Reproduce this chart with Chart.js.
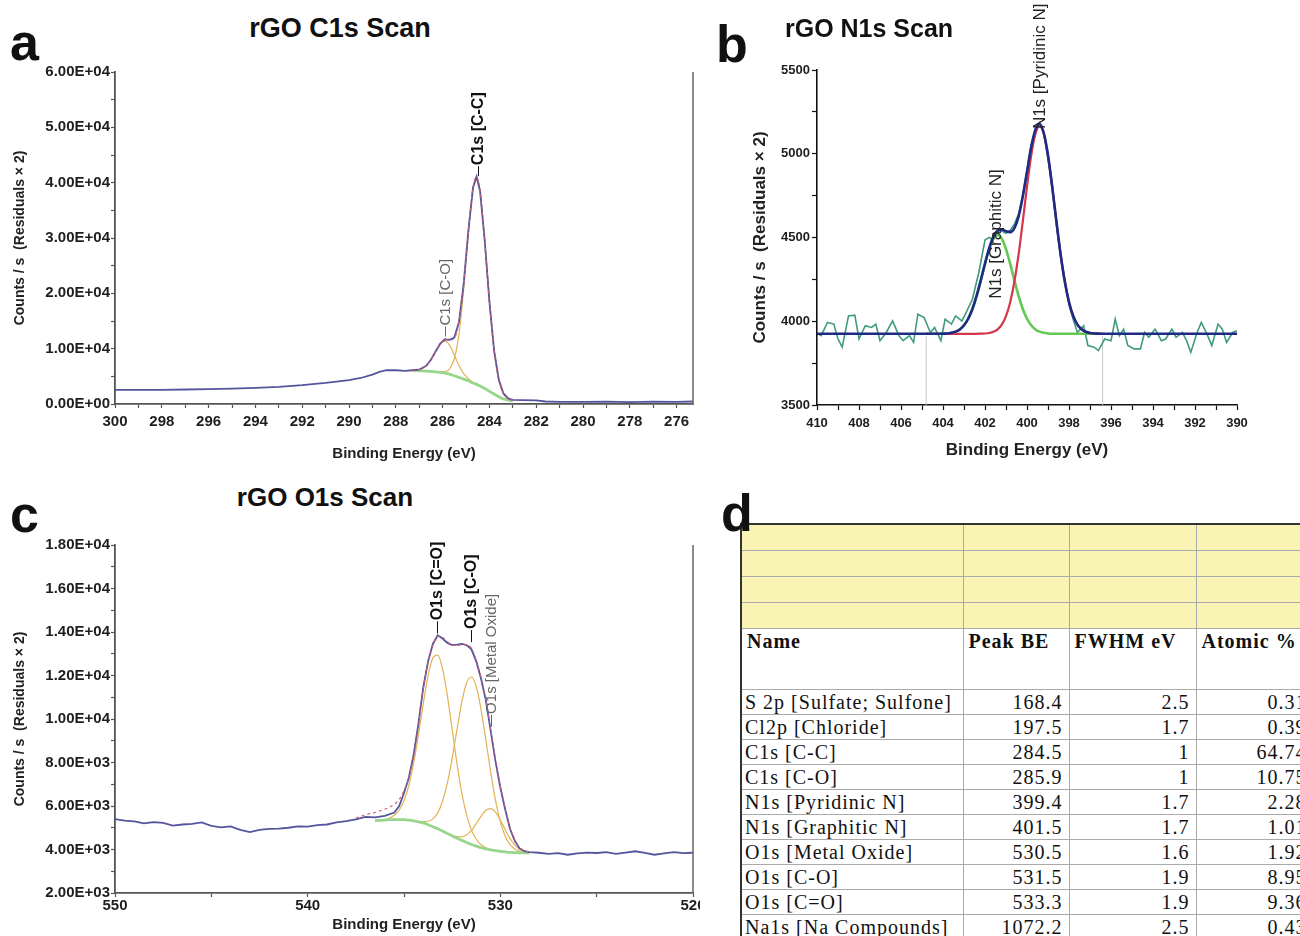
<!DOCTYPE html>
<html>
<head>
<meta charset="utf-8">
<script src="https://cdn.jsdelivr.net/npm/chart.js"></script>
<style>
    html, body { margin: 0; padding: 0; background: #fff; }
    body { width: 1300px; height: 936px; position: relative; overflow: hidden; font-family: "Liberation Sans", Arial, sans-serif; }
    canvas { position: absolute; }
    .letter { position: absolute; font-weight: bold; font-size: 52px; line-height: 52px; color: #111; }
    .title { position: absolute; font-weight: bold; font-size: 26px; line-height: 30px; color: #111; white-space: nowrap; }
    #clipC { position: absolute; left: 0; top: 515px; width: 700px; height: 421px; overflow: hidden; }
    #tableWrap { position: absolute; left: 740px; top: 523px; width: 560px; height: 413px; overflow: hidden; }
    #peaks { border-collapse: collapse; table-layout: fixed; width: 572px; font-family: "Liberation Serif", "Times New Roman", serif; font-size: 20px; color: #111; border-top: 2px solid #333; border-left: 2px solid #333; }
    #peaks td, #peaks th { border: 1px solid #aaa; padding: 0 6px; white-space: nowrap; overflow: hidden; text-align: right; letter-spacing: 1px; }
    #peaks tr.band td { background: #faf4b4; height: 25px; padding: 0; }
    #peaks tr.head th { height: 59px; vertical-align: top; text-align: left; font-weight: bold; padding: 1px 5px 0 5px; }
    #peaks tr.row td { height: 24px; line-height: 22px; }
    #peaks td.name { text-align: left; padding-left: 3px; }
</style>
</head>
<body>
<canvas id="chartA" width="700" height="420" style="left:0;top:60px"></canvas>
<canvas id="chartB" width="560" height="480" style="left:740px;top:0"></canvas>
<div id="clipC"><canvas id="chartC" width="730" height="421" style="left:0;top:0"></canvas></div>
<div id="tableWrap">
    <table id="peaks">
        <colgroup><col style="width:222px"><col style="width:106px"><col style="width:127px"><col style="width:117px"></colgroup>
        <tbody id="peakRows"></tbody>
    </table>
</div>
<div class="letter" style="left:10px;top:16px">a</div>
<div class="letter" style="left:716px;top:18px">b</div>
<div class="letter" style="left:10px;top:488px">c</div>
<div class="letter" style="left:721px;top:487px">d</div>
<div class="title" style="left:340px;top:13px;transform:translateX(-50%);font-size:27px">rGO C1s Scan</div>
<div class="title" style="left:785px;top:13px;font-size:25px">rGO N1s Scan</div>
<div class="title" style="left:325px;top:482px;transform:translateX(-50%)">rGO O1s Scan</div>
<script>
// ---- panel a : C1s ----
const c1sRawBE = [300, 299, 298, 297, 296, 295, 294, 293, 292, 291, 290, 289.5, 289, 288.7, 288.4, 288, 287.6, 287.3, 287, 286.7,
    286.5, 286.3, 286.1, 285.9, 285.7, 285.5, 285.3, 285.1, 284.9, 284.7, 284.55, 284.4, 284.2, 284, 283.8, 283.6, 283.4, 283.2, 283, 282.6,
    282, 281.6, 281, 280, 279, 278, 277, 276, 275.3];
const c1sRaw = [2550, 2550, 2560, 2620, 2700, 2780, 2900, 3100, 3400, 3800, 4300, 4700, 5300, 5800, 6100, 6100, 6000, 6100, 6200, 6900,
    8000, 9500, 10900, 11700, 11600, 12000, 14800, 21700, 31300, 39100, 41100, 38500, 29500, 18500, 9700, 4400, 1900, 1000, 750, 700,
    650, 450, 400, 380, 420, 350, 420, 380, 450];
const c1sFitBE = [287.3, 287.1, 286.9, 286.7, 286.5, 286.3, 286.1, 285.9, 285.7, 285.5, 285.3, 285.1, 284.9, 284.7, 284.55, 284.4, 284.2, 284.0,
    283.8, 283.6, 283.4, 283.2, 283.0];
const c1sEnvelope = [6100, 6150, 6350, 6935, 8040, 9530, 10940, 11640, 11550, 11900, 14820, 21725, 31265, 39130, 41090, 38480, 29500, 18540,
    9680, 4380, 1860, 943, 650];
const c1sBackground = [6050, 6020, 5980, 5950, 5900, 5800, 5700, 5600, 5400, 5100, 4800, 4500, 4200, 3800, 3550, 3250, 2800, 2300,
    1800, 1300, 900, 700, 600];
const c1sCO = [6070, 6127, 6345, 6935, 8040, 9520, 10890, 11400, 10590, 8820, 6940, 5485, 4565, 3907, 3570, 3255, 2800, 2300,
    1800, 1300, 900, 700, 600];
const c1sCC = [6050, 6020, 5980, 5950, 5900, 5808, 5748, 5843, 6360, 8180, 12680, 20740, 30900, 39030, 41050, 38480, 29500, 18540,
    9680, 4380, 1860, 943, 650];
const c1sPeakNames = ['C1s [C-C]', 'C1s [C-O]'];
const c1sPeakBE = [284.5, 285.9];
const c1sPeakTop = [41000, 12000];

// ---- panel b : N1s ----
const n1sRawBE = [410.0, 409.8, 409.5, 409.2, 409.0, 408.8, 408.5, 408.2, 408.0, 407.7, 407.4, 407.2, 407.0, 406.7, 406.4, 406.1, 405.9, 405.6,
    405.4, 405.2, 404.9, 404.6, 404.4, 404.1, 403.9, 403.6, 403.4, 403.1, 402.9, 402.6, 402.3, 402.0, 401.8, 401.6, 401.3, 401.0, 400.8,
    400.6, 400.4, 400.2, 400.0, 399.8, 399.6, 399.4, 399.2, 399.0, 398.8, 398.6, 398.4, 398.2, 398.0, 397.8, 397.6, 397.3, 397.1, 396.8,
    396.6, 396.3, 396.0, 395.8, 395.6, 395.4, 395.2, 394.9, 394.6, 394.4, 394.2, 393.9, 393.6, 393.4, 393.1, 392.9, 392.6, 392.4, 392.2,
    391.9, 391.7, 391.4, 391.2, 390.9, 390.7, 390.5, 390.2, 390.0];
const n1sRaw = [3928, 3914, 3993, 3983, 3894, 3845, 4032, 4036, 3894, 3973, 3963, 3983, 3884, 3933, 4002, 3914, 3884, 3914,
    3874, 4042, 4022, 3933, 3963, 3884, 4012, 3983, 4032, 4002, 4052, 4131, 4288, 4485, 4501, 4485, 4544, 4525, 4544,
    4580, 4640, 4760, 4900, 5050, 5140, 5185, 5120, 4970, 4810, 4580, 4390, 4240, 4100, 4010, 3933, 3973, 3855, 3845,
    3825, 3894, 3884, 4012, 3914, 3953, 3855, 3835, 3835, 3933, 3904, 3953, 3884, 3894, 3953, 3904, 3933, 3884, 3815,
    3933, 3993, 3914, 3855, 3983, 3953, 3874, 3933, 3943];
const n1sFitBE = [404.8, 404.6, 404.4, 404.2, 404.0, 403.8, 403.6, 403.4, 403.2, 403.0, 402.8, 402.6, 402.4, 402.2, 402.0, 401.8, 401.6, 401.4,
    401.2, 401.0, 400.8, 400.6, 400.4, 400.2, 400.0, 399.8, 399.6, 399.4, 399.2, 399.0, 398.8, 398.6, 398.4, 398.2, 398.0, 397.8,
    397.6, 397.4, 397.2, 397.0, 396.8, 396.6, 396.4];
const n1sPyridinic = [3925, 3925, 3925, 3925, 3925, 3925, 3925, 3925, 3925, 3925, 3925, 3925, 3925, 3926, 3927, 3930, 3937, 3952,
    3980, 4031, 4114, 4237, 4400, 4596, 4803, 4989, 5118, 5165, 5118, 4989, 4803, 4596, 4400, 4237, 4114, 4031,
    3980, 3952, 3937, 3930, 3927, 3926, 3925];
const n1sGraphitic = [3925, 3925, 3925, 3925, 3926, 3927, 3931, 3938, 3951, 3976, 4015, 4073, 4151, 4244, 4343, 4431, 4493, 4515,
    4493, 4431, 4343, 4244, 4151, 4073, 4015, 3976, 3951, 3938, 3931, 3927, 3925, 3925, 3925, 3925, 3925, 3925,
    3925, 3925, 3925, 3925, 3925, 3925, 3925];
const n1sEnvelope = [3925, 3925, 3925, 3925, 3926, 3927, 3931, 3938, 3951, 3976, 4015, 4073, 4151, 4245, 4345, 4436, 4505, 4542,
    4548, 4537, 4532, 4556, 4626, 4744, 4893, 5040, 5144, 5178, 5124, 4991, 4803, 4596, 4400, 4237, 4114, 4031,
    3980, 3952, 3937, 3930, 3927, 3926, 3925];
const n1sBaselineEnds = [410, 390];
const n1sBaseline = 3925;
const n1sRegion = [404.8, 396.4];
const n1sPeakNames = ['N1s [Pyridinic N]', 'N1s [Graphitic N]'];
const n1sPeakBE = [399.4, 401.5];
const n1sPeakTop = [5165, 4540];

// ---- panel c : O1s ----
const o1sRawBE = [550, 549.5, 549, 548.5, 548, 547.5, 547, 546.5, 546, 545.5, 545, 544.5, 544, 543.5, 543, 542.5, 542, 541.5, 541, 540.5,
    540, 539.5, 539, 538.5, 538, 537.5, 537, 536.5, 536, 535.5, 535.25, 535, 534.75, 534.5, 534.25, 534, 533.75, 533.5, 533.25, 533,
    532.75, 532.5, 532.25, 532, 531.75, 531.5, 531.25, 531, 530.75, 530.5, 530.25, 530, 529.75, 529.5, 529.25, 529, 528.75, 528.5,
    528, 527.5, 527, 526.5, 526, 525.5, 525, 524.5, 524, 523.5, 523, 522.5, 522, 521.5, 521, 520.5, 520];
const o1sRaw = [5400, 5330, 5290, 5200, 5260, 5220, 5100, 5150, 5180, 5250, 5090, 5020, 5060, 4900, 4800, 4900, 4950, 4960, 5000, 5060,
    5050, 5120, 5150, 5250, 5300, 5380, 5500, 5480, 5550, 5700, 6000, 6600, 7300, 8350, 9800, 11450, 12650, 13450, 13850, 13700,
    13500, 13400, 13420, 13450, 13400, 13200, 12650, 11850, 10850, 9450, 8050, 6850, 5850, 4950, 4400, 4050, 3920, 3880,
    3850, 3800, 3830, 3760, 3820, 3860, 3840, 3880, 3800, 3860, 3920, 3850, 3760, 3820, 3880, 3830, 3850];
const o1sFitBE = [536.5, 536.25, 536, 535.75, 535.5, 535.25, 535, 534.75, 534.5, 534.25, 534, 533.75, 533.5, 533.25, 533, 532.75, 532.5,
    532.25, 532, 531.75, 531.5, 531.25, 531, 530.75, 530.5, 530.25, 530, 529.75, 529.5, 529.25, 529, 528.75, 528.5];
const o1sBackground = [5330, 5340, 5350, 5370, 5380, 5375, 5370, 5350, 5320, 5270, 5220, 5140, 5050, 4950, 4850, 4735, 4620,
    4520, 4420, 4325, 4230, 4155, 4080, 4030, 3980, 3945, 3910, 3890, 3870, 3860, 3850, 3845, 3840];
const o1sCdO = [5333, 5350, 5380, 5450, 5574, 5806, 6242, 6942, 7968, 9270, 10708, 11988, 12810, 12934, 12314, 11079, 9516,
    7952, 6604, 5589, 4895, 4472, 4218, 4084, 4002, 3953, 3913, 3890, 3870, 3860, 3850, 3845, 3840];
const o1sCO = [5330, 5340, 5350, 5370, 5380, 5375, 5370, 5351, 5328, 5293, 5283, 5298, 5407, 5683, 6221, 7053, 8193,
    9517, 10773, 11663, 11930, 11493, 10433, 9027, 7553, 6263, 5281, 4623, 4227, 4018, 3913, 3868, 3848];
const o1sMetal = [5330, 5340, 5350, 5370, 5380, 5375, 5370, 5350, 5320, 5270, 5220, 5140, 5050, 4950, 4850, 4740, 4645,
    4588, 4585, 4675, 4872, 5187, 5530, 5805, 5880, 5720, 5360, 4922, 4512, 4210, 4015, 3913, 3865];
const o1sEnvBE = [537.5, 537, 536.5, 536.25, 536, 535.75, 535.5, 535.25, 535, 534.75, 534.5, 534.25, 534, 533.75, 533.5, 533.25, 533,
    532.75, 532.5, 532.25, 532, 531.75, 531.5, 531.25, 531, 530.75, 530.5, 530.25, 530, 529.75, 529.5, 529.25, 529, 528.75, 528.5];
const o1sEnvelope = [5450, 5600, 5700, 5780, 5850, 5950, 6080, 6300, 6700, 7300, 8300, 9700, 11400, 12600, 13400, 13800, 13750,
    13550, 13400, 13380, 13420, 13420, 13250, 12700, 11900, 10900, 9500, 8100, 6900, 5900, 5000, 4450, 4100, 3950, 3880];
const o1sPeakNames = ['O1s [C=O]', 'O1s [C-O]', 'O1s [Metal Oxide]'];
const o1sPeakBE = [533.3, 531.5, 530.5];
const o1sPeakTop = [13800, 13400, 9500];

// ---- panel d : table ----
const tableHeaders = ['Name', 'Peak BE', 'FWHM eV', 'Atomic %'];
const tableNames = ['S 2p [Sulfate; Sulfone]', 'Cl2p [Chloride]', 'C1s [C-C]', 'C1s [C-O]', 'N1s [Pyridinic N]', 'N1s [Graphitic N]',
    'O1s [Metal Oxide]', 'O1s [C-O]', 'O1s [C=O]', 'Na1s [Na Compounds]'];
const tablePeakBE = [168.4, 197.5, 284.5, 285.9, 399.4, 401.5, 530.5, 531.5, 533.3, 1072.2];
const tableFWHM = [2.5, 1.7, 1, 1, 1.7, 1.7, 1.6, 1.9, 1.9, 2.5];
const tableAtomic = [0.31, 0.39, 64.74, 10.75, 2.28, 1.01, 1.92, 8.95, 9.36, 0.43];

Chart.defaults.font.family = '"Liberation Sans", Arial, sans-serif';
Chart.defaults.animation = false;

const pts = (xs, ys) => xs.map((x, i) => ({x: x, y: ys[i]}));

const sciLabel = (v) => {
    const parts = Number(v).toExponential(2).split('e');
    const sign = parts[1][0] === '-' ? '-' : '+';
    return parts[0] + 'E' + sign + parts[1].replace(/[+-]/, '').padStart(2, '0');
};

let line = function (data, color, width, extra) {
    return Object.assign({
        data: data, borderColor: color, borderWidth: width, pointRadius: 0,
        fill: false, tension: 0
    }, extra || {});
};
const smooth = {cubicInterpolationMode: 'monotone'};

let peakLabels = {
    id: 'peakLabels',
    afterDatasetsDraw(chart, args, opts) {
        const ctx = chart.ctx;
        const xs = chart.scales.x, ys = chart.scales.y;
        opts.names.forEach((name, i) => {
            const st = opts.styles[i];
            const px = Math.round(xs.getPixelForValue(opts.be[i])) + 0.5;
            const py = ys.getPixelForValue(opts.top[i]);
            const base = py - st.gap;
            ctx.save();
            ctx.strokeStyle = st.color;
            ctx.fillStyle = st.color;
            ctx.lineWidth = 1;
            if (st.leader > 0) {
                ctx.beginPath();
                ctx.moveTo(px, base);
                ctx.lineTo(px, base - st.leader);
                ctx.stroke();
            }
            ctx.translate(px, base - st.leader - 1);
            ctx.rotate(-Math.PI / 2);
            ctx.font = st.font;
            ctx.textAlign = 'left';
            ctx.textBaseline = 'middle';
            ctx.fillText(name, 0, 0);
            ctx.restore();
        });
    }
};

let rightFrame = {
    id: 'rightFrame',
    afterDraw(chart, args, opts) {
        const ctx = chart.ctx, a = chart.chartArea;
        ctx.save();
        ctx.strokeStyle = opts.color;
        ctx.lineWidth = opts.width;
        ctx.beginPath();
        ctx.moveTo(a.right, a.top);
        ctx.lineTo(a.right, a.bottom);
        ctx.stroke();
        ctx.restore();
    }
};

let axisX = function (min, max, step, every, o) {
    return {
        type: 'linear', reverse: true, min: min, max: max,
        border: {display: true, color: o.color, width: o.width},
        grid: {drawOnChartArea: false, drawTicks: true, tickLength: o.tickLen, tickColor: o.color, tickWidth: 1.2},
        ticks: {
            stepSize: step, includeBounds: false, autoSkip: false, maxRotation: 0, padding: o.pad,
            color: '#1e1e1e', font: {size: o.size, weight: 'bold'},
            callback: (v) => (v % every === 0 ? String(v) : '')
        },
        title: {display: true, text: 'Binding Energy (eV)', color: '#222', font: {size: o.titleSize, weight: 'bold'},
            padding: {top: 0, bottom: o.titlePad}},
        afterFit: (s) => { s.height = o.height; }
    };
};

let axisY = function (min, max, step, every, fmt, o) {
    return {
        type: 'linear', min: min, max: max,
        border: {display: true, color: o.color, width: o.width},
        grid: {drawOnChartArea: false, drawTicks: true, tickLength: o.tickLen, tickColor: o.color, tickWidth: 1.2},
        ticks: {
            stepSize: step, autoSkip: false, padding: o.pad, color: '#1e1e1e', font: {size: o.size, weight: 'bold'},
            callback: (v) => (v % every === 0 ? fmt(v) : '')
        },
        title: {display: true, text: 'Counts / s  (Residuals \u00d7 2)', color: '#222',
            font: {size: o.titleSize, weight: 'bold'}, padding: {top: o.titlePad, bottom: 0}},
        afterFit: (s) => { s.width = o.width2; }
    };
};

const navy = '#55559e', pink = '#c8607a', orange = '#e3b255', lightGreen = '#98d68e';

// panel a
new Chart(document.getElementById('chartA'), {
    type: 'line',
    data: {
        datasets: [
            line(pts(c1sFitBE, c1sEnvelope), pink, 1.2, Object.assign({borderDash: [3, 3]}, smooth)),
            line(pts(c1sRawBE, c1sRaw), navy, 1.8),
            line(pts(c1sFitBE, c1sBackground), lightGreen, 2.8, smooth),
            line(pts(c1sFitBE, c1sCO), orange, 1.2, smooth),
            line(pts(c1sFitBE, c1sCC), orange, 1.2, smooth)
        ]
    },
    options: {
        responsive: false,
        layout: {padding: {top: 12, right: 7, left: 0, bottom: 0}},
        plugins: {
            legend: {display: false}, tooltip: {enabled: false},
            rightFrame: {color: '#666', width: 1.5},
            peakLabels: {
                names: c1sPeakNames, be: c1sPeakBE, top: c1sPeakTop,
                styles: [
                    {font: 'bold 16px "Liberation Sans", Arial', color: '#111', gap: 1, leader: 10},
                    {font: '15px "Liberation Sans", Arial', color: '#666', gap: 1, leader: 10}
                ]
            }
        },
        scales: {
            x: axisX(275.3, 300, 1, 2, {color: '#555', width: 1.8, tickLen: 4, pad: 5, size: 15, titleSize: 15, titlePad: 17, height: 76}),
            y: axisY(0, 60000, 5000, 10000, sciLabel, {color: '#555', width: 1.8, tickLen: 4, pad: 1, size: 15, titleSize: 14, titlePad: 12, width2: 115})
        }
    },
    plugins: [peakLabels, rightFrame]
});

// panel b
const n1sEnvPoints = [{x: n1sBaselineEnds[0], y: n1sBaseline}].concat(pts(n1sFitBE, n1sEnvelope), [{x: n1sBaselineEnds[1], y: n1sBaseline}]);
new Chart(document.getElementById('chartB'), {
    type: 'line',
    data: {
        datasets: [
            line(n1sEnvPoints, '#1f2a86', 2.6, smooth),
            line(pts(n1sFitBE, n1sPyridinic), '#d2384a', 2.2, smooth),
            line(pts(n1sFitBE, n1sGraphitic), '#62c852', 2.6, smooth),
            line(pts(n1sRawBE, n1sRaw), '#3f9a80', 1.6),
            line(pts([n1sRegion[0], n1sRegion[0]], [3500, n1sBaseline - 15]), '#c6c6c6', 1),
            line(pts([n1sRegion[1], n1sRegion[1]], [3500, n1sBaseline - 15]), '#c6c6c6', 1)
        ]
    },
    options: {
        responsive: false,
        layout: {padding: {top: 70, right: 63, left: 0, bottom: 0}},
        plugins: {
            legend: {display: false}, tooltip: {enabled: false},
            peakLabels: {
                names: n1sPeakNames, be: n1sPeakBE, top: n1sPeakTop,
                styles: [
                    {font: '17px "Liberation Sans", Arial', color: '#222', gap: -4, leader: 0},
                    {font: '17px "Liberation Sans", Arial', color: '#222', gap: -69, leader: 0}
                ]
            }
        },
        scales: {
            x: axisX(390, 410, 1, 2, {color: '#111', width: 1.6, tickLen: 5, pad: 6, size: 13, titleSize: 17, titlePad: 19, height: 75}),
            y: axisY(3500, 5500, 250, 500, (v) => String(v), {color: '#111', width: 1.6, tickLen: 5, pad: 2, size: 13, titleSize: 17, titlePad: 10, width2: 77})
        }
    },
    plugins: [peakLabels]
});

// panel c
new Chart(document.getElementById('chartC'), {
    type: 'line',
    data: {
        datasets: [
            line(pts(o1sEnvBE, o1sEnvelope), pink, 1.2, Object.assign({borderDash: [3, 3]}, smooth)),
            line(pts(o1sRawBE, o1sRaw), navy, 1.8),
            line(pts(o1sFitBE, o1sBackground), lightGreen, 2.8, smooth),
            line(pts(o1sFitBE, o1sCdO), orange, 1.2, smooth),
            line(pts(o1sFitBE, o1sCO), orange, 1.2, smooth),
            line(pts(o1sFitBE, o1sMetal), orange, 1.2, smooth)
        ]
    },
    options: {
        responsive: false,
        layout: {padding: {top: 30, right: 37, left: 0, bottom: 0}},
        plugins: {
            legend: {display: false}, tooltip: {enabled: false},
            rightFrame: {color: '#666', width: 1.5},
            peakLabels: {
                names: o1sPeakNames, be: o1sPeakBE, top: o1sPeakTop,
                styles: [
                    {font: 'bold 16px "Liberation Sans", Arial', color: '#111', gap: 3, leader: 12},
                    {font: 'bold 16px "Liberation Sans", Arial', color: '#111', gap: 3, leader: 12},
                    {font: '15px "Liberation Sans", Arial', color: '#666', gap: 3, leader: 12}
                ]
            }
        },
        scales: {
            x: axisX(520, 550, 5, 10, {color: '#555', width: 1.8, tickLen: 4, pad: 0, size: 15, titleSize: 15, titlePad: 2, height: 43}),
            y: axisY(2000, 18000, 1000, 2000, sciLabel, {color: '#555', width: 1.8, tickLen: 4, pad: 1, size: 15, titleSize: 14, titlePad: 12, width2: 115})
        }
    },
    plugins: [peakLabels, rightFrame]
});

// panel d
let rows = '';
for (let i = 0; i < 4; i++) {
    rows += '<tr class="band"><td></td><td></td><td></td><td></td></tr>';
}
rows += '<tr class="head">' + tableHeaders.map((h) => `<th>${h}</th>`).join('') + '</tr>';
tableNames.forEach((name, i) => {
    rows += `<tr class="row"><td class="name">${name}</td><td>${tablePeakBE[i]}</td><td>${tableFWHM[i]}</td><td>${tableAtomic[i]}</td></tr>`;
});
document.getElementById('peakRows').innerHTML = rows;
</script>
</body>
</html>
